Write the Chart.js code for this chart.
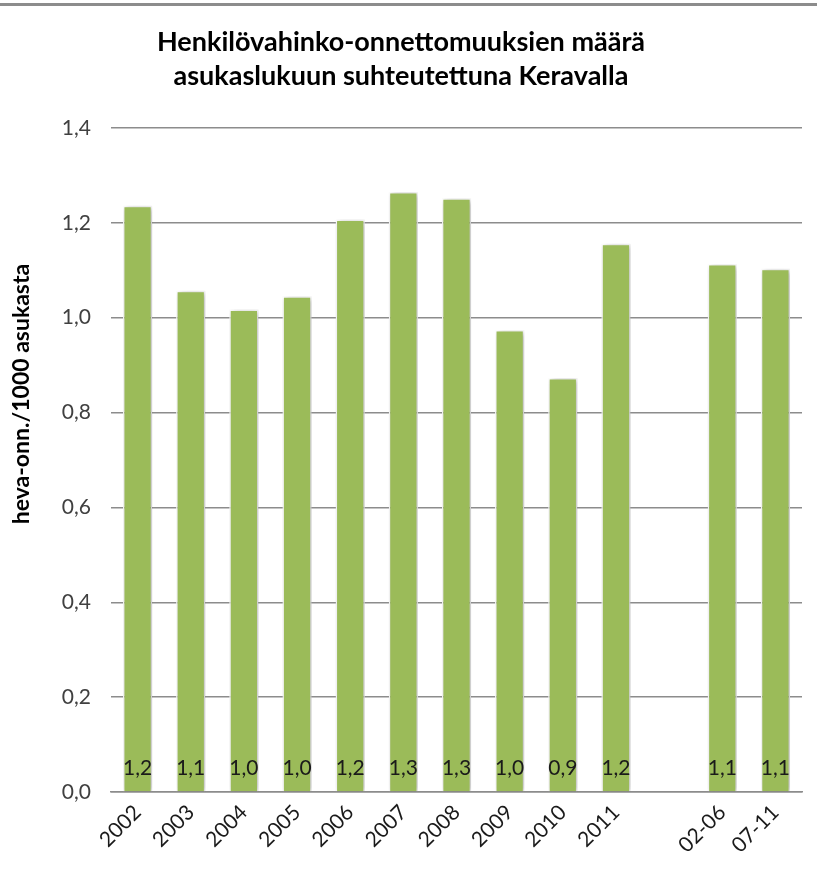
<!DOCTYPE html>
<html>
<head>
<meta charset="utf-8">
<script src="https://cdn.jsdelivr.net/npm/chart.js@4.4.0/dist/chart.umd.min.js"></script>
<title>Henkilövahinko-onnettomuudet Keravalla</title>
<style>
  body { margin: 0; background: #fff; }
  #wrap { width: 817px; height: 883px; position: relative; }
  #topline { position: absolute; left: 0; top: 3px; width: 817px; height: 3px; background: #8c8c8c; }
</style>
</head>
<body>
<div id="wrap">
<div id="topline"></div>
<canvas id="myChart" width="817" height="883"></canvas>
</div>
<script>
// data
var categories = ['2002', '2003', '2004', '2005', '2006', '2007', '2008', '2009', '2010', '2011', '', '02-06', '07-11'];
var values = [1.236, 1.057, 1.017, 1.045, 1.207, 1.265, 1.252, 0.974, 0.873, 1.156, null, 1.113, 1.103];
var chartTitle = ['Henkilövahinko-onnettomuuksien määrä', 'asukaslukuun suhteutettuna Keravalla'];
var yTitle = 'heva-onn./1000 asukasta';

var FONT = 'Lato, "Open Sans", sans-serif';

function fmt(v) { return v.toFixed(1).replace('.', ','); }

// soft shadow behind bars
var barShadow = {
  id: 'barShadow',
  beforeDatasetsDraw: function(chart) {
    var ctx = chart.ctx;
    ctx.save();
    ctx.shadowColor = 'rgba(0,0,0,0.28)';
    ctx.shadowBlur = 6;
    ctx.shadowOffsetX = 2;
    ctx.shadowOffsetY = 1;
  },
  afterDatasetsDraw: function(chart) {
    chart.ctx.restore();
  }
};

// value labels at bar bottom + rotated y title
var labelsPlugin = {
  id: 'labelsPlugin',
  afterDraw: function(chart) {
    var ctx = chart.ctx;
    var meta = chart.getDatasetMeta(0);
    ctx.save();
    ctx.font = '21px ' + FONT;
    ctx.fillStyle = '#1a1a1a';
    ctx.textAlign = 'center';
    ctx.textBaseline = 'middle';
    meta.data.forEach(function(bar, i) {
      if (values[i] == null) return;
      ctx.fillText(fmt(values[i]), bar.x, 768);
    });
    ctx.font = 'bold 23px ' + FONT;
    ctx.translate(22, 394);
    ctx.rotate(-Math.PI / 2);
    ctx.fillStyle = '#000';
    ctx.fillText(yTitle, 0, 0);
    ctx.restore();
  }
};

var ctx = document.getElementById('myChart').getContext('2d');
var myChart = new Chart(ctx, {
  type: 'bar',
  data: {
    labels: categories,
    datasets: [{
      data: values,
      backgroundColor: '#9bbb59',
      borderColor: '#ffffff',
      borderWidth: 1.5,
      categoryPercentage: 1.0,
      barPercentage: 0.55
    }]
  },
  options: {
    responsive: false,
    animation: false,
    layout: { padding: { top: 6, right: 15, left: 0, bottom: 0 } },
    scales: {
      x: {
        grid: { display: false },
        border: { display: true, color: '#8c8c8c', width: 1.5 },
        ticks: {
          color: '#1a1a1a',
          font: { family: FONT, size: 21 },
          minRotation: 45,
          maxRotation: 45,
          autoSkip: false,
          padding: 0
        },
        afterFit: function(scale) { scale.height = 91; }
      },
      y: {
        min: 0,
        max: 1.4,
        ticks: {
          stepSize: 0.2,
          color: '#404040',
          font: { family: FONT, size: 21 },
          padding: 20,
          callback: function(v) { return fmt(v); }
        },
        grid: { color: '#8c8c8c', lineWidth: 1.5, drawTicks: false },
        border: { display: false },
        afterFit: function(scale) { scale.width = 111; }
      }
    },
    plugins: {
      legend: { display: false },
      tooltip: { enabled: false },
      title: {
        display: true,
        text: chartTitle,
        color: '#000',
        font: { family: FONT, size: 27, weight: 'bold', lineHeight: 1.24 },
        padding: { top: 20, bottom: 35 }
      }
    }
  },
  plugins: [barShadow, labelsPlugin]
});
</script>
</body>
</html>
